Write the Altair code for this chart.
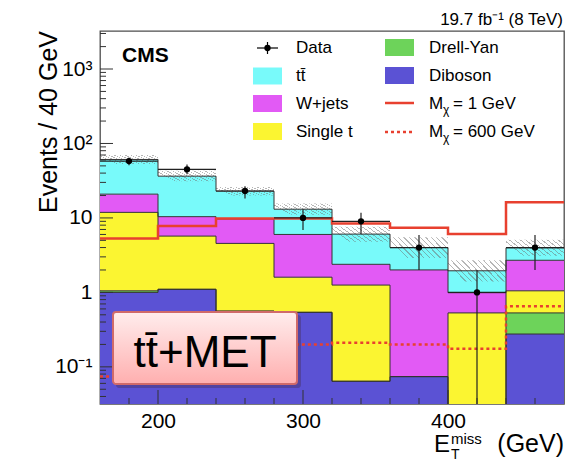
import altair as alt
import pandas as pd

# ---------------- data ----------------
bin_lo = [160, 200, 240, 280, 320, 360, 400, 440]
bin_hi = [200, 240, 280, 320, 360, 400, 440, 480]
diboson = [1.0, 1.1, 0.56, 0.54, 0.064, 0.074, 0.0, 0.276]
drell_yan = [0.05, 0.0, 0.0, 0.0, 0.0, 0.0, 0.0, 0.254]
single_t = [10.83, 4.6, 3.99, 1.06, 1.19, 0.0, 0.53, 0.52]
wjets = [9.0, 4.7, 5.15, 4.4, 1.13, 1.93, 0.46, 1.65]
ttbar = [40.1, 26.0, 13.2, 7.1, 3.68, 2.0, 0.96, 1.27]
data_obs = [58, 45, 23, 10, 9, 4, 1, 4]
data_lo = [51, 38.5, 18.2, 6.9, 6.1, 2.0, 0.0, 2.0]
data_hi = [65, 52, 26.6, 13.1, 11.7, 5.9, 1.98, 5.9]
unc_lo = [53, 31, 20, 11, 4.8, 2.9, 1.4, 3.1]
unc_hi = [70, 43, 26, 15.6, 7.6, 5.5, 2.7, 5.1]
sig_m1 = [5.3, 7.8, 9.8, 9.8, 8.4, 7.4, 6.1, 16.2]
sig_m600 = [0.074, 0.12, 0.17, 0.2, 0.21, 0.2, 0.175, 0.65]

y_major = [0.1, 1, 10, 100, 1000]
x_major = [200, 300, 400]
x_minor = [180, 220, 240, 260, 280, 320, 340, 360, 380, 420, 440, 460]

comp_names = ["Diboson", "Drell-Yan", "Single t", "W+jets", "tt"]
comp_vals = [diboson, drell_yan, single_t, wjets, ttbar]
comp_colors = ["#5b52d4", "#6dd35a", "#fbf531", "#e25af5", "#78fafa"]

# ---------------- layout / style ----------------
FONT = "Liberation Sans"
OX, OY = 100, 31          # page position of plot origin
W, H = 464, 373
FLOOR = 1e-3

xscale = alt.Scale(domain=[160, 480], nice=False, zero=False)
yscale = alt.Scale(type="log", domain=[0.0317, 3240], nice=False)

# stacked rectangles
rows = []
cum = [0.0] * len(bin_lo)
tops = {}
for name, vals in zip(comp_names, comp_vals):
    for i in range(len(bin_lo)):
        lo = cum[i]
        hi = cum[i] + vals[i]
        rows.append(dict(comp=name, x=bin_lo[i], x2=bin_hi[i],
                         y=max(lo, FLOOR), y2=max(hi, FLOOR)))
        cum[i] = hi
    tops[name] = list(cum)
stack_df = pd.DataFrame(rows)

fills = alt.Chart(stack_df).mark_rect(clip=True, strokeWidth=0).encode(
    x=alt.X("x:Q", scale=xscale, axis=alt.Axis(values=x_major, format="d", title=None,
                                               labelPadding=6, labelFontSize=21)),
    x2="x2:Q",
    y=alt.Y("y:Q", scale=yscale, axis=alt.Axis(
        values=y_major, title=None, labelPadding=8, labelFontSize=21,
        labelExpr="datum.value == 1000 ? '10³' : datum.value == 100 ? '10²' : "
                  "datum.value == 10 ? '10' : datum.value == 1 ? '1' : '10⁻¹'")),
    y2="y2:Q",
    color=alt.Color("comp:N", scale=alt.Scale(domain=comp_names, range=comp_colors), legend=None),
)

# hatched uncertainty band (striped gradient)
N = 12
stops = []
for i in range(N):
    a = i / N
    b = (i + 0.75) / N
    c = (i + 1) / N
    stops += [{"offset": a, "color": "rgba(255,255,255,0)"},
              {"offset": b, "color": "rgba(255,255,255,0)"},
              {"offset": b, "color": "rgba(110,110,110,0.5)"},
              {"offset": c, "color": "rgba(110,110,110,0.5)"}]
hatch_grad = {"gradient": "linear", "x1": 0, "y1": 0.35, "x2": 1, "y2": 0, "stops": stops}
band_df = pd.DataFrame({"x": bin_lo, "x2": bin_hi, "y": unc_lo, "y2": unc_hi})
band = alt.Chart(band_df).mark_rect(clip=True, fill=hatch_grad, strokeWidth=0).encode(
    x=alt.X("x:Q", scale=xscale), x2="x2:Q",
    y=alt.Y("y:Q", scale=yscale), y2="y2:Q")

# outlines of stacked histograms
edges = bin_lo + [bin_hi[-1]]
ol_rows = []
for name in comp_names:
    t = tops[name]
    vals = t + [t[-1]]
    for e, v in zip(edges, vals):
        ol_rows.append(dict(comp=name, x=e, y=max(v, FLOOR)))
ol_df = pd.DataFrame(ol_rows)
outlines = alt.Chart(ol_df).mark_line(interpolate="step-after", clip=True,
                                      color="#333333", strokeWidth=1).encode(
    x=alt.X("x:Q", scale=xscale), y=alt.Y("y:Q", scale=yscale), detail="comp:N")

# signal lines
sig_df = pd.DataFrame({"x": edges, "m1": sig_m1 + [sig_m1[-1]], "m600": sig_m600 + [sig_m600[-1]]})
sig1 = alt.Chart(sig_df).mark_line(interpolate="step-after", clip=True,
                                   color="#e8402f", strokeWidth=2.5).encode(
    x=alt.X("x:Q", scale=xscale), y=alt.Y("m1:Q", scale=yscale))
sig600 = alt.Chart(sig_df).mark_line(interpolate="step-after", clip=True,
                                     color="#e8402f", strokeWidth=2.5,
                                     strokeDash=[3, 3]).encode(
    x=alt.X("x:Q", scale=xscale), y=alt.Y("m600:Q", scale=yscale))

# data
dat_df = pd.DataFrame({
    "xc": [(a + b) / 2 for a, b in zip(bin_lo, bin_hi)],
    "x": bin_lo, "x2": bin_hi, "n": data_obs,
    "lo": [max(v, FLOOR) for v in data_lo], "hi": data_hi})
d_v = alt.Chart(dat_df).mark_rule(clip=True, color="#222", strokeWidth=1.2).encode(
    x=alt.X("xc:Q", scale=xscale), y=alt.Y("lo:Q", scale=yscale), y2="hi:Q")
d_h = alt.Chart(dat_df).mark_rule(clip=True, color="#222", strokeWidth=1.2).encode(
    x=alt.X("x:Q", scale=xscale), x2="x2:Q", y=alt.Y("n:Q", scale=yscale))
d_p = alt.Chart(dat_df).mark_circle(clip=True, color="black", opacity=1, size=40).encode(
    x=alt.X("xc:Q", scale=xscale), y=alt.Y("n:Q", scale=yscale))

# axis ticks drawn inward
ymin = []
for d in range(-2, 4):
    for k in range(2, 10):
        v = k * 10 ** d
        if 0.0317 <= v <= 3240:
            ymin.append(v)
yt_major = alt.Chart(pd.DataFrame({"v": y_major})).mark_rule(color="#333", strokeWidth=1).encode(
    y=alt.Y("v:Q", scale=yscale), x=alt.value(0), x2=alt.value(13))
yt_minor = alt.Chart(pd.DataFrame({"v": ymin})).mark_rule(color="#333", strokeWidth=1).encode(
    y=alt.Y("v:Q", scale=yscale), x=alt.value(0), x2=alt.value(6))
xt_major = alt.Chart(pd.DataFrame({"v": x_major})).mark_rule(color="#333", strokeWidth=1).encode(
    x=alt.X("v:Q", scale=xscale), y=alt.value(H), y2=alt.value(H - 14))
xt_minor = alt.Chart(pd.DataFrame({"v": x_minor})).mark_rule(color="#333", strokeWidth=1).encode(
    x=alt.X("v:Q", scale=xscale), y=alt.value(H), y2=alt.value(H - 6))

one = pd.DataFrame({"k": [0]})


def txt(s, x, y, size, align="left", baseline="alphabetic", weight="normal", angle=None):
    kw = dict(text=s, align=align, baseline=baseline, fontSize=size,
              fontWeight=weight, font=FONT, color="black")
    if angle is not None:
        kw["angle"] = angle
    return alt.Chart(one).mark_text(**kw).encode(x=alt.value(x - OX), y=alt.value(y - OY))


def box(x0, y0, x1, y1, **kw):
    return alt.Chart(one).mark_rect(**kw).encode(
        x=alt.value(x0 - OX), x2=alt.value(x1 - OX), y=alt.value(y0 - OY), y2=alt.value(y1 - OY))


def hline(x0, x1, y, **kw):
    return alt.Chart(one).mark_rule(**kw).encode(
        x=alt.value(x0 - OX), x2=alt.value(x1 - OX), y=alt.value(y - OY))


def vline(x, y0, y1, **kw):
    return alt.Chart(one).mark_rule(**kw).encode(
        x=alt.value(x - OX), y=alt.value(y0 - OY), y2=alt.value(y1 - OY))


# legend
leg = []
r = [48, 76, 103.5, 131.5]
c1_sw, c1_tx = 253, 296
c2_sw, c2_tx = 385, 429
LS = 17
# Data marker
leg.append(hline(257, 278, r[0], color="black", strokeWidth=1.2))
leg.append(vline(267.5, r[0] - 6, r[0] + 6, color="black", strokeWidth=1.2))
leg.append(alt.Chart(one).mark_circle(color="black", opacity=1, size=40).encode(
    x=alt.value(267.5 - OX), y=alt.value(r[0] - OY)))
leg.append(txt("Data", c1_tx, r[0], LS, baseline="middle"))
# swatches column 1
for name, col, row in [("tt̄", "#78fafa", r[1]), ("W+jets", "#e25af5", r[2]), ("Single t", "#fbf531", r[3])]:
    leg.append(box(c1_sw, row - 8.5, c1_sw + 29, row + 8.5, fill=col))
    leg.append(txt(name, c1_tx, row, LS, baseline="middle"))
for name, col, row in [("Drell-Yan", "#6dd35a", r[0] - 0.5), ("Diboson", "#5b52d4", r[1] - 0.5)]:
    leg.append(box(c2_sw, row - 8.5, c2_sw + 29, row + 8.5, fill=col))
    leg.append(txt(name, c2_tx, row, LS, baseline="middle"))
leg.append(hline(c2_sw, c2_sw + 29, r[2] - 0.5, color="#e8402f", strokeWidth=2.5))
leg.append(hline(c2_sw, c2_sw + 29, r[3] + 0.5, color="#e8402f", strokeWidth=2.5, strokeDash=[3, 3]))
for row, lab in [(r[2], "= 1 GeV"), (r[3], "= 600 GeV")]:
    leg.append(txt("M", c2_tx, row, LS, baseline="middle"))
    leg.append(txt("χ", 443, row + 10, 12))
    leg.append(txt(lab, 453, row, LS, baseline="middle"))

# annotation texts
texts = [
    txt("CMS", 122, 62, 21, weight="bold"),
    txt("19.7 fb⁻¹ (8 TeV)", 563, 25, 17, align="right"),
    txt("Events / 40 GeV", 57, 31, 25, align="right", angle=270),
    txt("E", 434, 452, 24),
    txt("miss", 451, 444, 15),
    txt("T", 451, 459, 14),
    txt("(GeV)", 564, 452, 25, align="right"),
]

# tt+MET box
pink_grad = {"gradient": "linear", "x1": 0, "y1": 0, "x2": 0, "y2": 1,
             "stops": [{"offset": 0, "color": "#ffeded"}, {"offset": 1, "color": "#ffafaf"}]}
shadow = box(116, 315, 301, 388, fill="rgba(60,30,30,0.28)", cornerRadius=3)
pbox = box(113, 312, 297, 384, fill=pink_grad, stroke="#d06a6a", strokeWidth=2, cornerRadius=3)
ptxt = txt("tt̄+MET", 205, 367, 44, align="center")

chart = alt.layer(
    fills, band, outlines, sig1, sig600, d_v, d_h, d_p,
    yt_major, yt_minor, xt_major, xt_minor,
    *leg, *texts, shadow, pbox, ptxt,
).properties(
    width=W, height=H,
    autosize=alt.AutoSizeParams(type="none"),
    padding={"left": OX, "top": OY, "right": 588 - OX - W, "bottom": 461 - OY - H},
    background="white",
).configure_view(stroke="#4d4d4d", strokeWidth=1.3).configure_axis(
    grid=False, ticks=False, domain=False, labelFont=FONT, labelColor="black", labelFlush=False
)

chart.save("out.html", embed_options={"renderer": "svg", "actions": False})
